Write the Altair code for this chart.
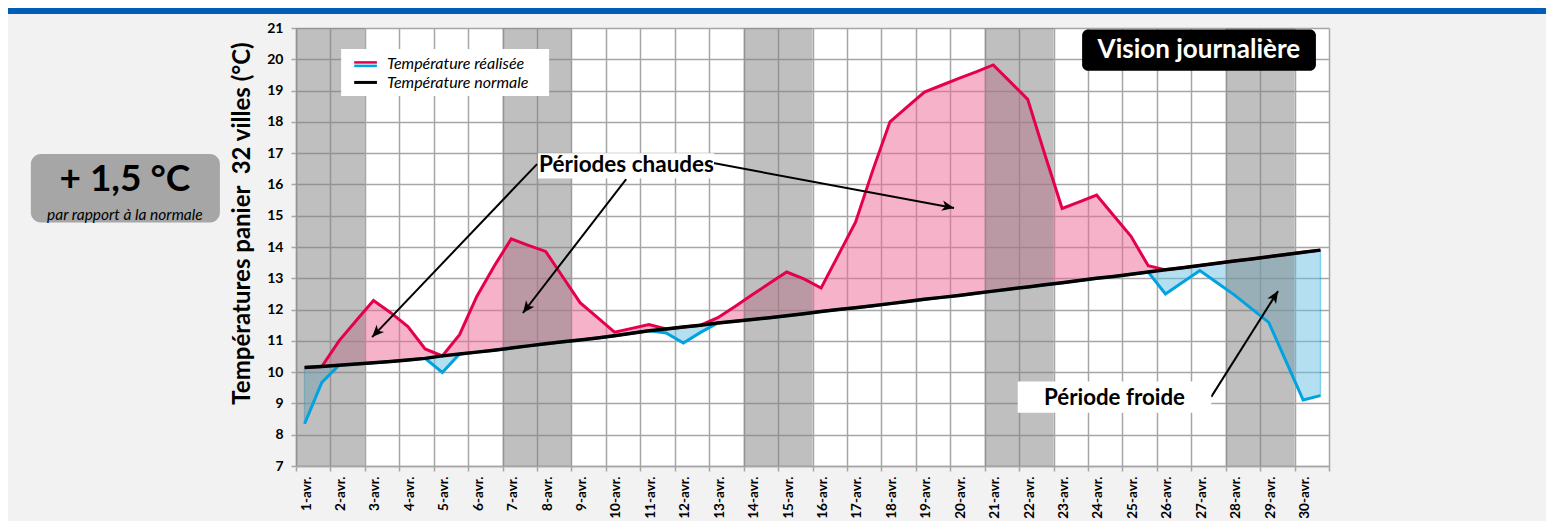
import json
import math
import altair as alt
import pandas as pd

# ---------------- data ----------------
day_labels = [f"{d}-avr." for d in range(1, 31)]
weekend_days = [1, 2, 7, 8, 14, 15, 21, 22, 28, 29]
y_ticks = list(range(7, 22))

# two readings per day (morning / afternoon positions of the reference)
realized = [
    8.35, 9.67, 11.00, 11.65, 12.29, 11.90, 11.46, 10.74, 9.99, 11.20,
    12.42, 13.38, 14.26, 14.05, 13.86, 13.04, 12.22, 11.75, 11.28, 11.40,
    11.52, 11.25, 10.93, 11.27, 11.74, 12.10, 12.47, 12.84, 13.20, 12.98,
    12.69, 13.74, 14.79, 16.45, 18.00, 18.48, 18.95, 19.17, 19.39, 19.60,
    19.82, 19.27, 18.72, 16.95, 15.23, 15.44, 15.66, 15.00, 14.34, 13.40,
    12.50, 12.87, 13.25, 12.86, 12.47, 12.03, 11.59, 10.35, 9.11, 9.25,
]
normal = [
    10.15, 10.18, 10.22, 10.26, 10.30, 10.34, 10.39, 10.44, 10.52, 10.58,
    10.64, 10.70, 10.77, 10.84, 10.91, 10.97, 11.03, 11.09, 11.16, 11.24,
    11.32, 11.38, 11.44, 11.50, 11.57, 11.63, 11.68, 11.74, 11.80, 11.87,
    11.94, 12.00, 12.06, 12.12, 12.19, 12.26, 12.33, 12.39, 12.45, 12.52,
    12.59, 12.66, 12.72, 12.79, 12.86, 12.93, 13.00, 13.06, 13.13, 13.20,
    13.27, 13.34, 13.41, 13.48, 13.55, 13.62, 13.69, 13.76, 13.83, 13.90,
]

# ---------------- geometry / style ----------------
W, H = 1033, 438
SX, SY = W / 30, H / 14
FONT = "Lato"
GRID = "#a6a6a6"
RED = "#e5004c"
BLUE = "#00a3e0"

pos = [0.25 + 0.5 * k for k in range(len(realized))]
df = pd.DataFrame({"x": pos, "real": realized, "norm": normal})
df["hot"] = df[["real", "norm"]].max(axis=1)
df["cold"] = df[["real", "norm"]].min(axis=1)

xs = alt.Scale(domain=[0, 30], nice=False, zero=False)
ys = alt.Scale(domain=[7, 21], nice=False, zero=False)

label_expr = json.dumps(day_labels, ensure_ascii=False) + "[datum.value] || ''"
x_axis = alt.Axis(
    values=list(range(0, 31)), labelExpr=label_expr, labelAngle=270,
    labelOffset=10, labelPadding=5, labelFontSize=13.5, labelFontWeight="bold",
    labelColor="black", labelOverlap=False, labelFlush=False, labelFont=FONT,
    grid=True, gridColor=GRID, gridWidth=1.5, tickColor=GRID, tickSize=5,
    tickWidth=1.5, domainColor=GRID, domainWidth=1.5, title=None,
)
y_axis = alt.Axis(
    values=y_ticks, labelFontSize=14, labelFontWeight="bold", labelColor="black",
    labelPadding=8, labelFlush=False, labelFont=FONT,
    grid=True, gridColor=GRID, gridWidth=1.5, tickColor=GRID, tickSize=5,
    tickWidth=1.5, domainColor=GRID, domainWidth=1.5,
    title="Températures panier\u00a0 32 villes (°C)", titleFontSize=24,
    titleFontWeight="bold", titleColor="black", titleFont=FONT,
    titleX=-42, titleY=195,
)


def ex(f):
    return alt.X(f"{f}:Q", scale=xs, axis=x_axis)


def ey(f):
    return alt.Y(f"{f}:Q", scale=ys, axis=y_axis)


base = alt.Chart(df)

hot_area = base.mark_area(color="#ed6593", opacity=0.5).encode(
    x=ex("x"), y=ey("hot"), y2="norm")
cold_area = base.mark_area(color="#69c1e5", opacity=0.5, stroke=BLUE,
                           strokeWidth=1.5, strokeOpacity=1).encode(
    x=ex("x"), y=ey("cold"), y2="norm")

wk = pd.DataFrame({"x0": [d - 1 for d in weekend_days],
                   "x1": weekend_days, "y0": [7] * len(weekend_days),
                   "y1": [21] * len(weekend_days)})
weekend = alt.Chart(wk).mark_rect(color="#808080", opacity=0.5).encode(
    x=ex("x0"), x2="x1", y=ey("y0"), y2="y1")

cold_line = base.mark_line(color=BLUE, strokeWidth=3).encode(x=ex("x"), y=ey("cold"))
hot_line = base.mark_line(color=RED, strokeWidth=3).encode(x=ex("x"), y=ey("hot"))
norm_line = base.mark_line(color="black", strokeWidth=3.5).encode(x=ex("x"), y=ey("norm"))


def box(x0, x1, y0, y1, color, radius=0):
    d = pd.DataFrame({"x0": [x0], "x1": [x1], "y0": [y0], "y1": [y1]})
    return alt.Chart(d).mark_rect(color=color, cornerRadius=radius).encode(
        x=ex("x0"), x2="x1", y=ey("y0"), y2="y1")


def label(x, y, txt, size, weight="normal", style="normal", color="black", align="center"):
    d = pd.DataFrame({"x": [x], "y": [y], "t": [txt]})
    return alt.Chart(d).mark_text(font=FONT, fontSize=size, fontWeight=weight,
                                  fontStyle=style, color=color, align=align,
                                  baseline="middle").encode(
        x=ex("x"), y=ey("y"), text="t:N")


def swatch(x0, x1, y, color, width):
    d = pd.DataFrame({"x0": [x0], "x1": [x1], "y": [y]})
    return alt.Chart(d).mark_rule(color=color, strokeWidth=width).encode(
        x=ex("x0"), x2="x1", y=ey("y"))


# arrows (data coordinates)
arrows = pd.DataFrame({
    "ax": [7.00, 9.59, 12.08, 26.58],
    "ay": [16.65, 16.17, 16.69, 9.21],
    "bx": [2.21, 6.59, 19.11, 28.52],
    "by": [11.12, 11.89, 15.25, 12.59],
})
arrows["ang"] = [
    math.degrees(math.atan2((bx - ax) * SX, (by - ay) * SY)) % 360
    for ax, ay, bx, by in zip(arrows.ax, arrows.ay, arrows.bx, arrows.by)
]
arrow_lines = alt.Chart(arrows).mark_rule(color="black", strokeWidth=2).encode(
    x=ex("ax"), y=ey("ay"), x2="bx", y2="by")
HEAD = "M0,0L1.3,3L0,2.2L-1.3,3Z"
arrow_heads = alt.Chart(arrows).mark_point(
    shape=HEAD, filled=True, color="black", size=64, opacity=1, strokeWidth=0
).encode(x=ex("bx"), y=ey("by"), angle=alt.Angle("ang:Q", scale=None))

layers = [
    hot_area, cold_area, weekend, cold_line, hot_line, norm_line,
    arrow_lines, arrow_heads,
    # legend
    box(1.31, 7.35, 18.83, 20.33, "white"),
    swatch(1.69, 2.35, 19.90, RED, 2.5),
    swatch(1.69, 2.35, 19.79, BLUE, 2.5),
    swatch(1.69, 2.35, 19.26, "black", 3),
    label(2.64, 19.86, "Température réalisée", 16, style="italic", align="left"),
    label(2.64, 19.25, "Température normale", 16, style="italic", align="left"),
    # daily view badge
    box(22.83, 29.62, 19.63, 20.95, "black", 6),
    label(26.22, 20.29, "Vision journalière", 26, weight="bold", color="white"),
    # anomaly badge
    box(-7.70, -2.21, 14.78, 16.97, "#a6a6a6", 10),
    label(-4.97, 16.14, "+ 1,5 °C", 37, weight="bold"),
    label(-4.97, 15.03, "par rapport à la normale", 15.5, style="italic"),
    # annotations
    box(7.03, 12.14, 16.19, 17.00, "white"),
    label(9.60, 16.61, "Périodes chaudes", 22.5, weight="bold"),
    box(20.96, 26.58, 8.70, 9.70, "white"),
    label(23.77, 9.18, "Période froide", 22.3, weight="bold"),
    # top band
    box(-8.4, 36.4, 21.45, 21.66, "#005eb8"),
]

chart = alt.layer(*layers).properties(
    width=W, height=H,
    padding={"left": 288, "top": 20, "right": 217, "bottom": 55},
    autosize=alt.AutoSizeParams(type="none"),
).configure(background="#f2f2f2", font=FONT).configure_view(fill="white", stroke=None)

chart.save("out.html", embed_options={"renderer": "svg", "actions": False})
